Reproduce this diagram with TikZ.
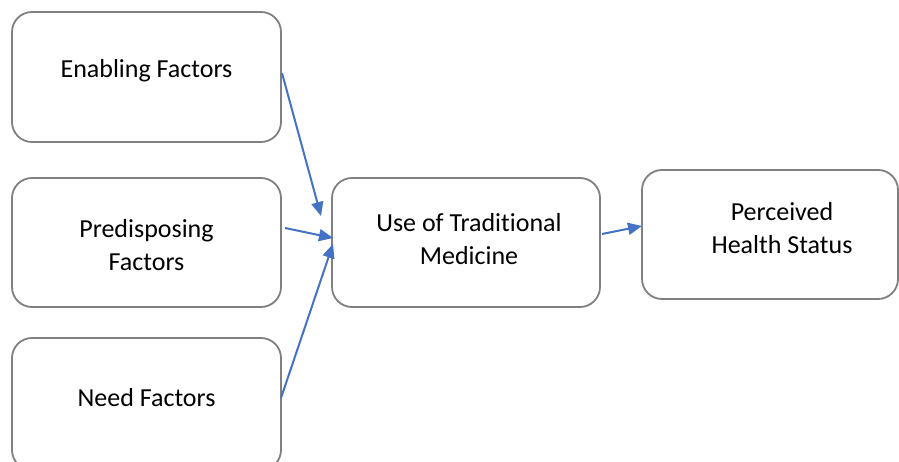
\documentclass[tikz,border=0pt]{standalone}
\usepackage{fontspec}
\setmainfont[Ligatures=NoCommon]{Carlito}
\usetikzlibrary{arrows.meta}
\definecolor{boxgray}{RGB}{128,128,128}
\definecolor{arrblue}{RGB}{68,114,196}
\begin{document}
\begin{tikzpicture}[x=1pt,y=-1pt,
  fbox/.style={draw=boxgray,line width=1.8pt,rounded corners=20pt,fill=white},
  lbl/.style={font=\fontsize{26}{33}\selectfont,align=center,inner sep=0pt},
  arr/.style={draw=arrblue,line width=2pt,-{Triangle[length=14pt,width=12pt]}}]
\useasboundingbox (0,0) rectangle (899,462);
% boxes
\draw[fbox] (12,12) rectangle (281,142);
\node[lbl] (en) at (146.5,71) {Enabling Factors};
\draw[fbox] (12,178) rectangle (281,307);
\node[lbl] (pr) at (146.5,245) {Predisposing\\Factors};
\draw[fbox] (12,338) rectangle (281,470);
\node[lbl] (ne) at (146.5,398) {Need Factors};
\draw[fbox] (332,178) rectangle (600,307);
\node[lbl] (us) at (469,239) {Use of Traditional\\Medicine};
\draw[fbox] (642,170) rectangle (898,299);
\node[lbl] (pe) at (782,228) {Perceived\\Health Status};
% connector end points
\coordinate (s1) at (282,73);
\coordinate (t1) at (321,216);
\coordinate (s2) at (285,228);
\coordinate (t2) at (333,238);
\coordinate (s3) at (281,398);
\coordinate (t3) at (333,244);
\coordinate (s4) at (602,234);
\coordinate (t4) at (642,226);
\draw[arr] (s1) -- (t1);
\draw[arr] (s2) -- (t2);
\draw[arr] (s3) -- (t3);
\draw[arr] (s4) -- (t4);
\end{tikzpicture}
\end{document}
